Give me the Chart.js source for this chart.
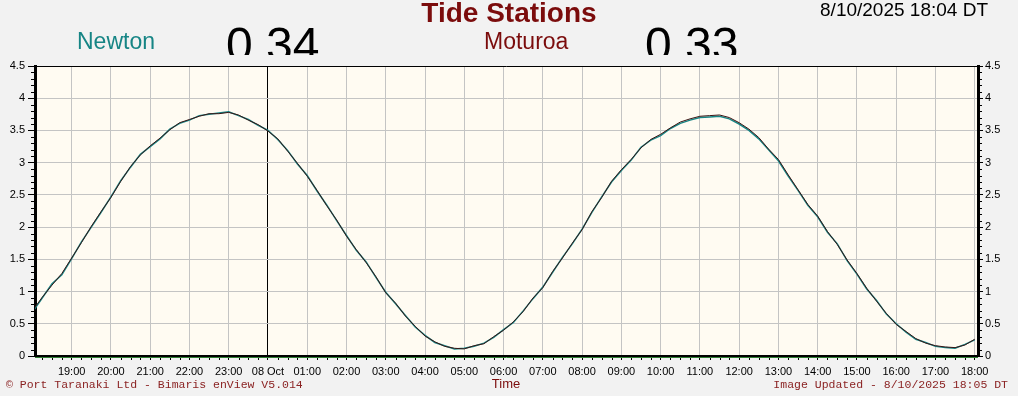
<!DOCTYPE html>
<html>
<head>
<meta charset="utf-8">
<script src="https://cdn.jsdelivr.net/npm/chart.js@4.4.0/dist/chart.umd.min.js"></script>
<style>
    body { margin: 0; background: #f2f2f2; }
    #wrap { position: relative; width: 1018px; height: 396px; overflow: hidden; font-family: Arial, "Liberation Sans", sans-serif; }
    #tide-chart { position: absolute; left: 0; top: 0; }
    .t { position: absolute; line-height: 1; white-space: nowrap; }
    .clip { position: absolute; top: 0; height: 55px; overflow: hidden; }
    .big { font-size: 48px; color: #000; }
    .foot { font-family: "Liberation Mono", "Courier New", monospace; font-size: 11.5px; color: #8b2323; }
</style>
</head>
<body>
<div id="wrap">
    <canvas id="tide-chart" width="1018" height="396"></canvas>
    <div class="t" style="left:0;width:1018px;top:-1px;text-align:center;font-size:28px;font-weight:bold;color:#7b0c0c;">Tide Stations</div>
    <div class="t" style="right:30px;top:0;font-size:19px;color:#000;">8/10/2025 18:04 DT</div>
    <div class="t" style="left:77px;top:30px;font-size:23px;color:#168585;">Newton</div>
    <div class="t" style="left:484px;top:30px;font-size:23px;color:#7b0c0c;">Moturoa</div>
    <div class="clip" style="left:226px;width:110px;"><div class="t big" style="left:0;top:21px;">0.34</div></div>
    <div class="clip" style="left:645px;width:110px;"><div class="t big" style="left:0;top:21px;">0.33</div></div>
    <div class="t foot" style="left:6px;top:379px;">© Port Taranaki Ltd - Bimaris enView V5.014</div>
    <div class="t" style="left:0;width:1012px;top:377px;text-align:center;font-size:13px;color:#7b0c0c;">Time</div>
    <div class="t foot" style="right:10px;top:379px;">Image Updated - 8/10/2025 18:05 DT</div>
</div>
<script>
// minutes from 00:00 on 08 Oct; first sample is 18:00 on 07 Oct, one every 15 min
const sampleStart = -360;
const sampleStep = 15;

const newton = [
    0.68, 0.90, 1.12, 1.26,  1.51, 1.77, 2.00, 2.23,  2.47, 2.72, 2.93, 3.13,
    3.25, 3.37, 3.52, 3.61,  3.66, 3.73, 3.75, 3.77,  3.79, 3.73, 3.67, 3.58,
    3.50, 3.36, 3.19, 2.98,  2.80, 2.56, 2.34, 2.10,  1.87, 1.64, 1.46, 1.22,
    0.99, 0.81, 0.63, 0.45,  0.32, 0.21, 0.16, 0.11,  0.12, 0.15, 0.20, 0.29,
    0.41, 0.52, 0.70, 0.89,  1.07, 1.30, 1.53, 1.74,  1.97, 2.23, 2.47, 2.70,
    2.88, 3.04, 3.24, 3.35,  3.42, 3.53, 3.61, 3.66,  3.70, 3.71, 3.72, 3.68,
    3.60, 3.50, 3.37, 3.20,  3.03, 2.79, 2.57, 2.34,  2.16, 1.92, 1.74, 1.48,
    1.27, 1.04, 0.86, 0.65,  0.50, 0.37, 0.26, 0.21,  0.15, 0.13, 0.12, 0.18,
    0.25
];
const moturoa = [
    0.70, 0.91, 1.10, 1.28,  1.52, 1.76, 2.01, 2.24,  2.46, 2.71, 2.94, 3.12,
    3.26, 3.38, 3.51, 3.62,  3.67, 3.72, 3.76, 3.76,  3.78, 3.74, 3.66, 3.59,
    3.49, 3.37, 3.18, 2.99,  2.79, 2.57, 2.33, 2.11,  1.86, 1.65, 1.45, 1.23,
    0.98, 0.82, 0.62, 0.46,  0.31, 0.22, 0.15, 0.12,  0.11, 0.16, 0.19, 0.30,
    0.40, 0.53, 0.69, 0.90,  1.06, 1.31, 1.52, 1.75,  1.96, 2.24, 2.46, 2.71,
    2.89, 3.05, 3.23, 3.36,  3.44, 3.54, 3.63, 3.68,  3.72, 3.73, 3.74, 3.70,
    3.62, 3.52, 3.39, 3.21,  3.05, 2.81, 2.58, 2.35,  2.17, 1.93, 1.73, 1.49,
    1.28, 1.05, 0.85, 0.66,  0.49, 0.38, 0.27, 0.20,  0.16, 0.14, 0.13, 0.17,
    0.26
];

const hourTickMinutes = [-300, -240, -180, -120, -60, 0, 60, 120, 180, 240, 300, 360,
    420, 480, 540, 600, 660, 720, 780, 840, 900, 960, 1020, 1080];
const hourTickLabels = ['19:00', '20:00', '21:00', '22:00', '23:00', '08 Oct', '01:00', '02:00',
    '03:00', '04:00', '05:00', '06:00', '07:00', '08:00', '09:00', '10:00', '11:00', '12:00',
    '13:00', '14:00', '15:00', '16:00', '17:00', '18:00'];
const yTicks = [0, 0.5, 1, 1.5, 2, 2.5, 3, 3.5, 4, 4.5];

const toPoints = (vals) => vals.map((v, i) => ({ x: sampleStart + i * sampleStep, y: v }));

// cream plot background, thin top border, small minor ticks
const frame = {
    id: 'frame',
    beforeDraw(chart) {
        const { ctx, chartArea: a } = chart;
        ctx.save();
        ctx.fillStyle = '#fffbf2';
        ctx.fillRect(a.left, a.top, a.right - a.left, a.bottom - a.top);
        ctx.restore();
    },
    afterDraw(chart) {
        const { ctx, chartArea: a, scales } = chart;
        ctx.save();
        ctx.strokeStyle = '#000';
        ctx.lineWidth = 1;
        ctx.beginPath();
        ctx.moveTo(a.left, a.top + 0.5);
        ctx.lineTo(a.right, a.top + 0.5);
        for (let i = 1; i < 45; i++) {
            if (i % 5 === 0) continue;
            const y = Math.round(scales.y.getPixelForValue(i / 10)) + 0.5;
            ctx.moveTo(a.left - 4, y); ctx.lineTo(a.left - 1, y);
            ctx.moveTo(a.right + 1, y); ctx.lineTo(a.right + 4, y);
        }
        for (let m = -345; m <= 1080; m += 15) {
            if (m % 60 === 0) continue;
            const x = Math.round(scales.x.getPixelForValue(m)) + 0.5;
            ctx.moveTo(x, a.bottom + 1); ctx.lineTo(x, a.bottom + 4);
        }
        ctx.stroke();
        ctx.strokeStyle = '#2e7d32';
        ctx.beginPath();
        ctx.moveTo(a.left, a.bottom + 1.5);
        ctx.lineTo(a.right, a.bottom + 1.5);
        ctx.stroke();
        ctx.restore();
    }
};

const tickFont = { family: 'Arial, "Liberation Sans", sans-serif', size: 11 };

new Chart(document.getElementById('tide-chart'), {
    type: 'line',
    data: {
        datasets: [
            { label: 'Moturoa', data: toPoints(moturoa), borderColor: '#3a1414', borderWidth: 1, pointRadius: 0, tension: 0 },
            { label: 'Newton', data: toPoints(newton), borderColor: '#168585', borderWidth: 1.5, pointRadius: 0, tension: 0 },
        ],
    },
    options: {
        responsive: false,
        animation: false,
        layout: { padding: { top: 66, left: 0, right: 0, bottom: 0 } },
        plugins: { legend: { display: false }, tooltip: { enabled: false } },
        scales: {
            x: {
                type: 'linear',
                min: -356,
                max: 1085,
                afterBuildTicks: (axis) => { axis.ticks = hourTickMinutes.map((value) => ({ value })); },
                afterFit: (scale) => { scale.height = 40; },
                ticks: {
                    autoSkip: false,
                    maxRotation: 0,
                    padding: 5,
                    color: '#000',
                    font: tickFont,
                    callback: (value, index) => hourTickLabels[index],
                },
                grid: {
                    color: (ctx) => (ctx.tick && ctx.tick.value === 0 ? '#000' : '#c4c4c4'),
                    tickColor: '#000',
                    tickLength: 4,
                },
                border: { color: '#000', width: 2 },
            },
            y: {
                position: 'left',
                min: 0,
                max: 4.5,
                afterBuildTicks: (axis) => { axis.ticks = yTicks.map((value) => ({ value })); },
                afterFit: (scale) => { scale.width = 35; },
                ticks: { color: '#000', font: tickFont, padding: 3, callback: (value) => String(value) },
                grid: { color: '#c4c4c4', tickColor: '#000', tickLength: 7 },
                border: { color: '#000', width: 3 },
            },
            y2: {
                position: 'right',
                min: 0,
                max: 4.5,
                afterBuildTicks: (axis) => { axis.ticks = yTicks.map((value) => ({ value })); },
                afterFit: (scale) => { scale.width = 40; },
                ticks: { color: '#000', font: tickFont, padding: 2, callback: (value) => String(value) },
                grid: { drawOnChartArea: false, tickColor: '#000', tickLength: 5 },
                border: { color: '#000', width: 3 },
            },
        },
    },
    plugins: [frame],
});
</script>
</body>
</html>
